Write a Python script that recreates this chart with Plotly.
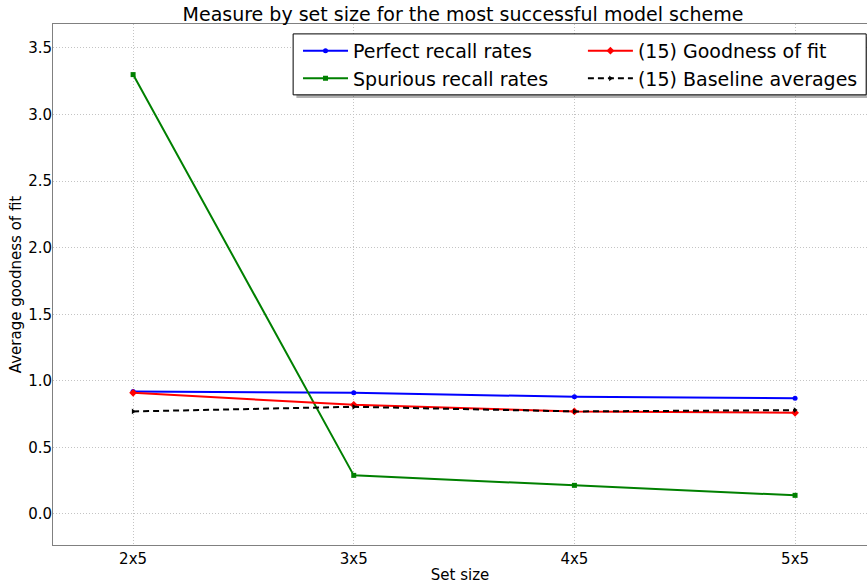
import plotly.graph_objects as go

set_sizes = ["2x5", "3x5", "4x5", "5x5"]
perfect_recall = [0.92, 0.91, 0.88, 0.87]
spurious_recall = [3.30, 0.29, 0.215, 0.14]
goodness_of_fit = [0.91, 0.82, 0.77, 0.76]
baseline_avg = [0.77, 0.805, 0.77, 0.78]

y_ticks = [0.0, 0.5, 1.0, 1.5, 2.0, 2.5, 3.0, 3.5]

FONT = "DejaVu Sans"
x_idx = list(range(len(set_sizes)))

fig = go.Figure()

fig.add_trace(go.Scatter(
    x=x_idx, y=perfect_recall, mode="lines+markers", name="Perfect recall rates",
    line=dict(color="#0000ff", width=2), marker=dict(symbol="circle", size=5, color="#0000ff"),
    legend="legend",
))
fig.add_trace(go.Scatter(
    x=x_idx, y=spurious_recall, mode="lines+markers", name="Spurious recall rates",
    line=dict(color="#008000", width=2), marker=dict(symbol="square", size=5, color="#008000"),
    legend="legend",
))
fig.add_trace(go.Scatter(
    x=x_idx, y=goodness_of_fit, mode="lines+markers", name="(15) Goodness of fit",
    line=dict(color="#ff0000", width=2), marker=dict(symbol="diamond", size=6, color="#ff0000"),
    legend="legend2",
))
fig.add_trace(go.Scatter(
    x=x_idx, y=baseline_avg, mode="lines+markers", name="(15) Baseline averages",
    line=dict(color="#000000", width=2, dash="6px,4px"),
    marker=dict(symbol="triangle-right", size=5, color="#000000"),
    legend="legend2",
))

legend_common = dict(
    font=dict(family=FONT, size=19, color="#000000"),
    bgcolor="rgba(0,0,0,0)", borderwidth=0,
    orientation="v", xanchor="left", yanchor="top",
    itemwidth=45, tracegroupgap=0,
)

grid_style = dict(showgrid=True, gridcolor="#c4c4c4", griddash="1px,2px", gridwidth=1)
spine_style = dict(showline=True, linecolor="#808080", linewidth=1, mirror=True,
                   ticks="", zeroline=False)

fig.update_layout(
    width=867, height=584,
    margin=dict(l=53, r=0, t=24, b=39),
    paper_bgcolor="white", plot_bgcolor="white",
    font=dict(family=FONT, size=15, color="#000000"),
    title=dict(
        text="Measure by set size for the most successful model scheme",
        font=dict(family=FONT, size=19, color="#000000"),
        x=0.534, xanchor="center", y=0.975, yanchor="middle",
    ),
    xaxis=dict(
        tickmode="array", tickvals=x_idx, ticktext=set_sizes,
        range=[-0.363, 3.326],
        tickfont=dict(family=FONT, size=15),
        title=dict(text="Set size", font=dict(family=FONT, size=15), standoff=2),
        **grid_style, **spine_style,
    ),
    yaxis=dict(
        tickmode="array", tickvals=y_ticks,
        ticktext=[f"{v:.1f}" for v in y_ticks],
        range=[-0.233, 3.68],
        tickfont=dict(family=FONT, size=15),
        ticklabelstandoff=-3,
        title=dict(text="Average goodness of fit", font=dict(family=FONT, size=15), standoff=2),
        **grid_style, **spine_style,
    ),
    legend=dict(x=0.301, y=0.985, **legend_common),
    legend2=dict(x=0.651, y=0.985, **legend_common),
    shapes=[
        # legend frame shadow and frame
        dict(type="rect", xref="paper", yref="paper",
             x0=0.299, x1=1.003, y0=0.858, y1=0.975,
             line=dict(width=0), fillcolor="rgba(0,0,0,0.3)", layer="above"),
        dict(type="rect", xref="paper", yref="paper",
             x0=0.295, x1=0.999, y0=0.864, y1=0.981,
             line=dict(color="#000000", width=1), fillcolor="white", layer="above"),
    ],
)

fig.write_html("out.html")
